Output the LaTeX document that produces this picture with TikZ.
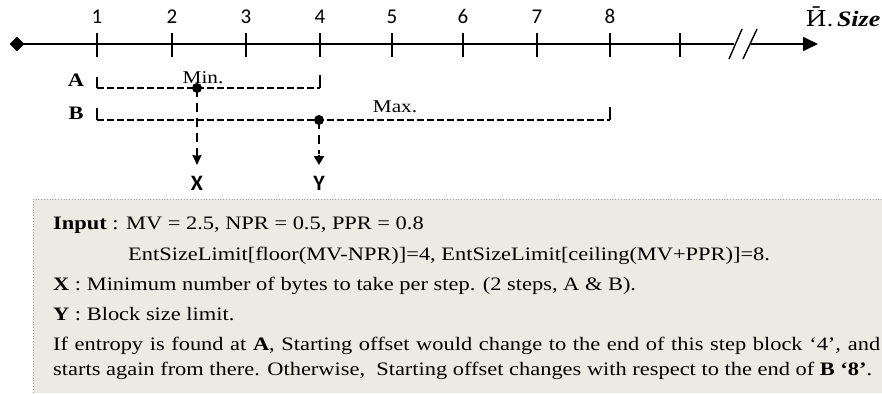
\documentclass[tikz,border=0pt]{standalone}
\usepackage{fontspec}
\setmainfont{Liberation Serif}
\newfontfamily\boxfont[FakeStretch=1.18]{Liberation Serif}
\newfontfamily\calib{Carlito}
\newfontfamily\dvs[FakeStretch=1.1]{DejaVu Serif}
\usetikzlibrary{shapes.geometric,arrows.meta}
\definecolor{boxbg}{RGB}{236,234,226}
\definecolor{boxline}{RGB}{160,160,160}
\begin{document}
\begin{tikzpicture}[x=1pt,y=-1pt,
  num/.style={font=\calib\fontsize{21}{21}\selectfont, anchor=base, inner sep=0},
  lab/.style={font=\boxfont\bfseries\fontsize{19}{19}\selectfont, anchor=base, inner sep=0},
  sans/.style={font=\calib\bfseries\fontsize{22}{22}\selectfont, anchor=base, inner sep=0},
  txt/.style={anchor=base west, inner sep=0, font=\boxfont\fontsize{19}{19}\selectfont},
  small/.style={anchor=base, inner sep=0, font=\boxfont\fontsize{18}{18}\selectfont},
  axis/.style={line width=1.8pt},
  tickmark/.style={line width=1.4pt},
  bracketline/.style={line width=1.2pt, dash pattern=on 7pt off 3pt},
  bracketend/.style={line width=1.4pt},
  dropline/.style={line width=2.2pt, dash pattern=on 9pt off 6pt},
  dot/.style={circle, fill, inner sep=0, minimum size=10pt}]
\useasboundingbox (0,0) rectangle (882,393);
% text box
\fill[boxbg] (33,199) rectangle (882,393);
\draw[boxline, dotted, line width=0.8pt] (882,199) -- (33,199) -- (33,393);
% axis
\node[diamond, fill, inner sep=0, minimum size=15pt] (dia) at (17,44) {};
\coordinate (brk1) at (734,44);
\coordinate (brk2) at (751,44);
\coordinate (tip) at (818,44);
\draw[axis] (dia.center) -- (brk1);
\draw[axis, -{Triangle[length=15pt,width=14pt]}] (brk2) -- (tip);
\draw[line width=1.4pt] (729,59) -- (742,29);
\draw[line width=1.4pt] (743,59) -- (757,29);
\foreach \i/\x in {1/97,2/172,3/246,4/320,5/392,6/463,7/537,8/610,9/680}{
  \coordinate (t\i) at (\x,44);
  \draw[tickmark] (\x,33) -- (\x,57);
}
\foreach \i/\x in {1/97,2/172,3/246,4/320,5/392,6/463,7/537,8/610}{
  \node[num] (n\i) at (\x,24) {\i};
}
\node[anchor=base, inner sep=0, font=\boxfont\fontsize{22}{22}\selectfont] (axlab) at (843,27) {{\dvs Ӣ}.\,\textbf{\textit{Size}}};
% row A
\node[lab] (A) at (76,87) {A};
\coordinate (a0) at (97,88);
\coordinate (a1) at (320,88);
\node[dot] (dA) at (197,88) {};
\draw[bracketend] (97,77) -- (a0);
\draw[bracketend] (320,75) -- (a1);
\draw[bracketline] (a0) -- (a1);
\node[small] (min) at (203,84) {Min.};
% row B
\node[lab] (B) at (76,120) {B};
\coordinate (b0) at (97,120);
\coordinate (b1) at (610,120);
\node[dot] (dB) at (319,120) {};
\draw[bracketend] (97,108) -- (b0);
\draw[bracketend] (610,107) -- (b1);
\draw[bracketline] (b0) -- (b1);
\node[small] (max) at (395,113) {Max.};
% drops
\node[sans] (X) at (197,190) {X};
\node[sans] (Y) at (319,190) {Y};
\coordinate (xa) at (197,165);
\coordinate (ya) at (319,165);
\draw[dropline] (dA.center) -- ([yshift=11pt]xa);
\draw[line width=2pt, -{Stealth[length=10pt,width=9pt,inset=1pt]}] ([yshift=12pt]xa) -- (xa);
\draw[dropline] (dB.center) -- ([yshift=11pt]ya);
\draw[line width=2pt, -{Triangle[length=9pt,width=10pt]}] ([yshift=10pt]ya) -- (ya);
% text
\node[txt] (l1) at (53,229) {\textbf{Input} : MV = 2.5, NPR = 0.5, PPR = 0.8};
\node[txt] (l2) at (128,260) {EntSizeLimit[floor(MV-NPR)]=4, EntSizeLimit[ceiling(MV+PPR)]=8.};
\node[txt] (l3) at (53,290) {\textbf{X} : Minimum number of bytes to take per step. (2 steps, A \& B).};
\node[txt] (l4) at (53,320) {\textbf{Y} : Block size limit.};
\node[txt] (l5) at (53,350) {\makebox[827pt][s]{If entropy is found at \textbf{A}, Starting offset would change to the end of this step block ‘4’, and}};
\node[txt] (l6) at (53,375) {starts again from there. Otherwise,\ \ Starting offset changes with respect to the end of \textbf{B ‘8’}.};
\end{tikzpicture}
\end{document}
